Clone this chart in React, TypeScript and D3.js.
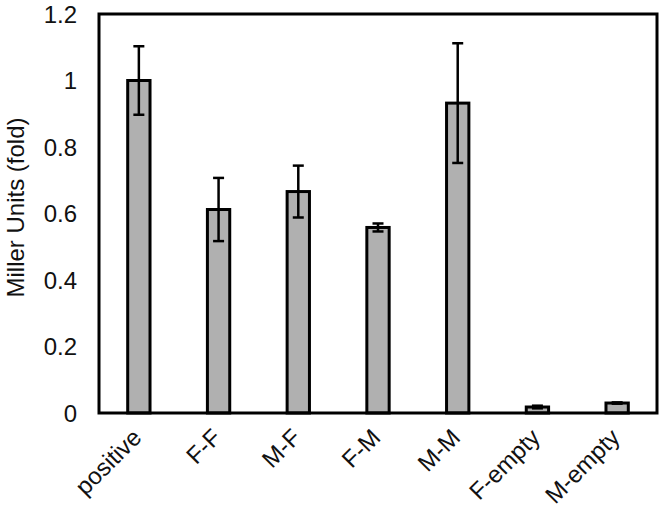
import React from "react";
import * as d3 from "d3";

// strains and their normalised Miller units
const categories = ["positive", "F-F", "M-F", "F-M", "M-M", "F-empty", "M-empty"];
const means = [1.0, 0.612, 0.666, 0.558, 0.932, 0.018, 0.03];
const errors = [0.103, 0.095, 0.078, 0.012, 0.18, 0.004, 0.002];
const yTicks = [0, 0.2, 0.4, 0.6, 0.8, 1, 1.2];

const width = 661;
const height = 516;
const margin = {top: 14, right: 4, bottom: 103, left: 99};
const font = "'Liberation Sans', Arial, sans-serif";

export default function App() {
    const x = d3.scaleBand()
        .domain(categories)
        .range([margin.left, width - margin.right])
        .paddingInner(0.72)
        .paddingOuter(0.36);

    const y = d3.scaleLinear()
        .domain([0, 1.2])
        .range([height - margin.bottom, margin.top]);

    const capHalf = 5.5;
    const bottom = y(0);

    return (
        <div style={{position: "absolute", left: 0, top: 0}}>
            <svg width={width} height={height} style={{display: "block", background: "#fff"}}>
                {/* tick labels, no tick marks */}
                {yTicks.map((t) => (
                    <text key={t} x={77} y={y(t)} dy="0.36em" textAnchor="end"
                        fontFamily={font} fontSize={24} fill="#111">
                        {d3.format("~g")(t)}
                    </text>
                ))}

                <text transform={`translate(24,${(y(0) + y(1.2)) / 2 - 6}) rotate(-90)`}
                    textAnchor="middle" fontFamily={font} fontSize={24} fill="#111">
                    Miller Units (fold)
                </text>

                {categories.map((c, i) => (
                    <rect key={c} x={x(c)} y={y(means[i])} width={x.bandwidth()}
                        height={bottom - y(means[i])} fill="#b0b0b0"
                        stroke="#000" strokeWidth={3} />
                ))}

                {categories.map((c, i) => {
                    const cx = (x(c) as number) + x.bandwidth() / 2;
                    const hi = y(means[i] + errors[i]);
                    const lo = y(means[i] - errors[i]);
                    return (
                        <g key={c} stroke="#000" strokeWidth={2.5}>
                            <line x1={cx} x2={cx} y1={hi} y2={lo} />
                            <line x1={cx - capHalf} x2={cx + capHalf} y1={hi} y2={hi} />
                            <line x1={cx - capHalf} x2={cx + capHalf} y1={lo} y2={lo} />
                        </g>
                    );
                })}

                {/* plot frame */}
                <rect x={margin.left} y={margin.top}
                    width={width - margin.left - margin.right}
                    height={bottom - margin.top}
                    fill="none" stroke="#000" strokeWidth={3} />

                {categories.map((c) => {
                    const cx = (x(c) as number) + x.bandwidth() / 2;
                    return (
                        <text key={c} transform={`translate(${cx + 4},${bottom + 26}) rotate(-45)`}
                            textAnchor="end" fontFamily={font} fontSize={24} fill="#111">
                            {c}
                        </text>
                    );
                })}
            </svg>
        </div>
    );
}
